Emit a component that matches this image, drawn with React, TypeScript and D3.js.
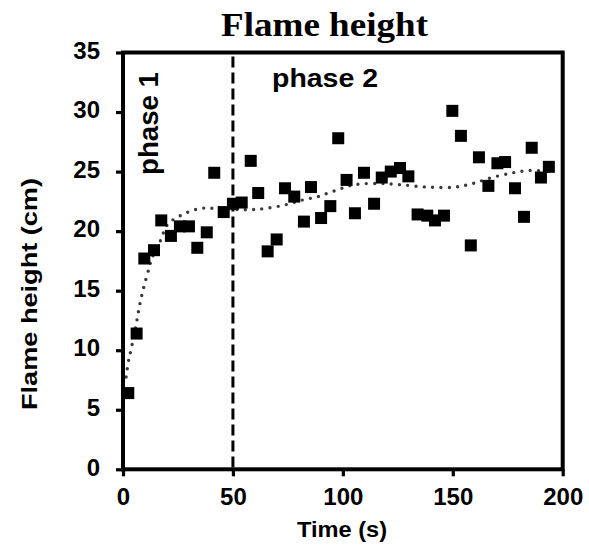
import React, { useEffect, useRef } from "react";
import * as d3 from "d3";

// measured points: time (s) and flame height (cm)
const timeS = [
  2.4, 6.2, 9.7, 14.1, 17.4, 21.8, 25.9, 30, 33.8, 38.1, 41.5, 45.8, 50, 54,
  58.1, 61.5, 65.8, 69.9, 73.7, 77.9, 82.3, 85.5, 90.1, 94.3, 97.9, 101.7,
  105.5, 109.6, 114.2, 117.7, 121.8, 126, 129.8, 134, 138.4, 141.9, 146,
  149.8, 153.7, 158.2, 161.9, 166.2, 170.3, 173.8, 178.3, 182.4, 185.9, 190.1,
  193.7,
];
const heightCm = [
  6.4, 11.4, 17.7, 18.4, 20.9, 19.6, 20.4, 20.4, 18.6, 19.9, 24.9, 21.6, 22.3,
  22.4, 25.9, 23.2, 18.3, 19.3, 23.6, 22.9, 20.8, 23.7, 21.1, 22.1, 27.8, 24.3,
  21.5, 24.9, 22.3, 24.5, 25.0, 25.3, 24.6, 21.4, 21.3, 20.9, 21.3, 30.1, 28.0,
  18.8, 26.2, 23.8, 25.7, 25.8, 23.6, 21.2, 27.0, 24.5, 25.4,
];

// dotted trend line
const trendT = [
  1.4, 2.7, 3.6, 6.2, 7.7, 9.6, 12, 13.1, 16.8, 20.5, 27.3, 35, 43.2, 56.4,
  64.6, 73.7, 81.4, 88.7, 96.4, 105.5, 116.9, 126, 138.3, 151, 159.2, 167.8,
  177.4, 185.1, 192.9,
];
const trendV = [
  7.75, 9.3, 10.0, 12.4, 13.9, 15.4, 17.0, 17.7, 19.1, 20.6, 21.4, 21.9, 21.9,
  21.8, 21.9, 22.2, 22.6, 22.9, 23.4, 23.9, 24.0, 23.9, 23.7, 23.7, 24.0, 24.5,
  24.9, 25.1, 25.0,
];

const xTicks = [0, 50, 100, 150, 200];
const yTicks = [0, 5, 10, 15, 20, 25, 30, 35];
const phaseSplit = 50;

const SANS = "'Liberation Sans', Arial, sans-serif";
const SERIF = "'Liberation Serif', 'Times New Roman', serif";

const FlameChart = ({ width = 589, height = 548 }) => {
  const svgRef = useRef<SVGSVGElement>(null);

  useEffect(() => {
    const x = d3.scaleLinear().domain([0, 200]).range([123, 562.7]);
    const y = d3.scaleLinear().domain([0, 35]).range([469.3, 52.5]);

    const svg = d3.select(svgRef.current);
    svg.selectAll("*").remove(); // clear previous render

    svg.append("rect").attr("width", width).attr("height", height).attr("fill", "#fff");

    // trend
    const trend = trendT.map((t, i) => [t, trendV[i]] as [number, number]);
    svg
      .append("path")
      .datum(trend)
      .attr(
        "d",
        d3
          .line<[number, number]>()
          .x((d) => x(d[0]))
          .y((d) => y(d[1]))
          .curve(d3.curveCatmullRom)
      )
      .attr("fill", "none")
      .attr("stroke", "#3a3a3a")
      .attr("stroke-width", 3.4)
      .attr("stroke-linecap", "round")
      .attr("stroke-dasharray", "0 8.3");

    // phase divider
    svg
      .append("line")
      .attr("x1", x(phaseSplit))
      .attr("x2", x(phaseSplit))
      .attr("y1", y(35) + 4)
      .attr("y2", y(0))
      .attr("stroke", "#000")
      .attr("stroke-width", 3)
      .attr("stroke-dasharray", "11 5");

    // squares
    const sq = 12;
    svg
      .append("g")
      .selectAll("rect")
      .data(timeS.map((t, i) => ({ t, v: heightCm[i] })))
      .join("rect")
      .attr("x", (d) => x(d.t) - sq / 2)
      .attr("y", (d) => y(d.v) - sq / 2)
      .attr("width", sq)
      .attr("height", sq)
      .attr("fill", "#000");

    // axes
    const gx = svg
      .append("g")
      .attr("transform", `translate(0,${y(0)})`)
      .call(d3.axisBottom(x).tickValues(xTicks).tickSize(7).tickPadding(11.7));
    const gy = svg
      .append("g")
      .attr("transform", `translate(${x(0)},0)`)
      .call(d3.axisLeft(y).tickValues(yTicks).tickSize(7).tickPadding(16));

    [gx, gy].forEach((g) => {
      g.select(".domain").remove();
      g.selectAll(".tick line").attr("stroke", "#000").attr("stroke-width", 3.2);
      g.selectAll(".tick text")
        .attr("fill", "#000")
        .style("font-family", SANS)
        .style("font-weight", "bold")
        .style("font-size", "24px");
    });
    gy.selectAll(".tick text").attr("dy", "0.24em");

    // frame
    svg
      .append("rect")
      .attr("x", x(0))
      .attr("y", y(35))
      .attr("width", x(200) - x(0))
      .attr("height", y(0) - y(35))
      .attr("fill", "none")
      .attr("stroke", "#000")
      .attr("stroke-width", 4);

    // texts
    const add = (
      txt: string,
      tx: number,
      ty: number,
      rot: boolean,
      size: number,
      len: number,
      anchor: string,
      family = SANS
    ) =>
      svg
        .append("text")
        .attr("transform", `translate(${tx},${ty})${rot ? " rotate(-90)" : ""}`)
        .attr("text-anchor", anchor)
        .attr("font-family", family)
        .attr("font-weight", "bold")
        .attr("font-size", size)
        .attr("textLength", len)
        .attr("lengthAdjust", "spacingAndGlyphs")
        .attr("fill", "#000")
        .text(txt);

    add("Flame height", 324.5, 36, false, 34, 207, "middle", SERIF);
    add("Flame height (cm)", 37, 294, true, 22, 232, "middle");
    add("phase 1", 158, 123.5, true, 27, 103, "middle");
    add("phase 2", 272, 87, false, 26, 106, "start");
    add("Time (s)", 342, 537, false, 22, 90, "middle");
  }, [width, height]);

  return (
    <svg
      ref={svgRef}
      width={width}
      height={height}
      style={{ position: "absolute", left: 0, top: 0 }}
    />
  );
};

export default function App() {
  return <FlameChart />;
}
